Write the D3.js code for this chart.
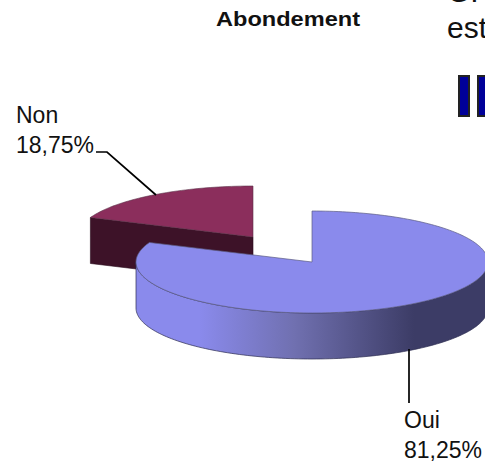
<!DOCTYPE html>
<html><head><meta charset="utf-8">
<script src="https://cdn.jsdelivr.net/npm/d3@7"></script>
<style>html,body{margin:0;padding:0;background:#fff;overflow:hidden}text{font-family:"Liberation Sans",Arial,sans-serif}</style>
</head><body>
<script>
const categories = ["Oui", "Non"];
const percentLabels = ["81,25%", "18,75%"];
const values = [81.25, 18.75];
const sliceColors = ["#8a8aec", "#8b2e5c"];
const cutColors = ["#3c3c66", "#3d1228"];
const wallStops = [[0, "#8a8aec"], [0.18, "#8a8aec"], [0.45, "#7070b0"], [0.79, "#3c3c66"], [1, "#3c3c66"]];

const W = 485, H = 463, RX = 176, RY = 51, DEPTH = 46;
const svg = d3.select("body").append("svg").attr("width", W).attr("height", H).style("display", "block");
const defs = svg.append("defs");
const grad = defs.append("linearGradient").attr("id", "wall").attr("gradientUnits", "userSpaceOnUse")
  .attr("x1", 312 - RX).attr("x2", 312 + RX).attr("y1", 0).attr("y2", 0);
wallStops.forEach(s => grad.append("stop").attr("offset", s[0]).attr("stop-color", s[1]));

const arcs = d3.pie().sort(null).value(d => d)(values);
const centers = [[312, 262], [253, 237]];

function pt(c, a, dy = 0) {
  return [c[0] + RX * Math.sin(a), c[1] - RY * Math.cos(a) + dy];
}
function sweep(c, a0, a1, dy = 0) {
  const n = Math.max(2, Math.ceil(Math.abs(a1 - a0) * 40));
  return d3.range(n + 1).map(i => pt(c, a0 + (a1 - a0) * i / n, dy));
}
const line = d3.line();

// Non slice (behind)
const non = arcs[1], cN = centers[1];
const pN0 = pt(cN, non.startAngle);
svg.append("path").attr("d", line([pN0, cN, [cN[0], cN[1] + DEPTH], [pN0[0], pN0[1] + DEPTH]]) + "Z")
  .attr("fill", cutColors[1]).attr("stroke", "#2a0c1c").attr("stroke-width", 0.6);
svg.append("path").attr("d", line([cN, ...sweep(cN, non.startAngle, non.endAngle)]) + "Z")
  .attr("fill", sliceColors[1]).attr("stroke", "#5a3048").attr("stroke-width", 0.6);

// Oui slice
const oui = arcs[0], cO = centers[0];
const wallTop = sweep(cO, Math.PI / 2, 1.5 * Math.PI);
const wallBot = sweep(cO, Math.PI / 2, 1.5 * Math.PI, DEPTH).reverse();
svg.append("path").attr("d", line([...wallTop, ...wallBot]) + "Z")
  .attr("fill", "url(#wall)").attr("stroke", "#2c2c50").attr("stroke-width", 0.7);
svg.append("path").attr("d", line([cO, ...sweep(cO, oui.startAngle, oui.endAngle)]) + "Z")
  .attr("fill", sliceColors[0]).attr("stroke", "#5c5c82").attr("stroke-width", 0.7);

// Leader lines
svg.append("path").attr("d", line([[96, 152], [107, 152], [156, 195]])).attr("fill", "none").attr("stroke", "#000").attr("stroke-width", 1.7);
svg.append("path").attr("d", line([[409, 349], [409, 403]])).attr("fill", "none").attr("stroke", "#000").attr("stroke-width", 1.7);

// Labels
function label(x, y, i) {
  svg.append("text").attr("x", x).attr("y", y).attr("font-size", 23).attr("fill", "#111").text(categories[i]);
  svg.append("text").attr("x", x).attr("y", y + 30).attr("font-size", 23).attr("fill", "#111").text(percentLabels[i]);
}
label(16, 123, 1);
label(404, 428, 0);

svg.append("text").attr("x", 216).attr("y", 26).attr("font-size", 21).attr("font-weight", "bold").attr("fill", "#111")
  .attr("textLength", 144).attr("lengthAdjust", "spacingAndGlyphs").text("Abondement");
svg.append("text").attr("x", 447).attr("y", 2).attr("font-size", 30).attr("fill", "#111").text("G.");
svg.append("text").attr("x", 447).attr("y", 38).attr("font-size", 30).attr("fill", "#111").text("est");
[459, 478].forEach(x => svg.append("rect").attr("x", x).attr("y", 76).attr("width", 10).attr("height", 40)
  .attr("fill", "#000099").attr("stroke", "#222").attr("stroke-width", 2));
</script>
</body></html>
